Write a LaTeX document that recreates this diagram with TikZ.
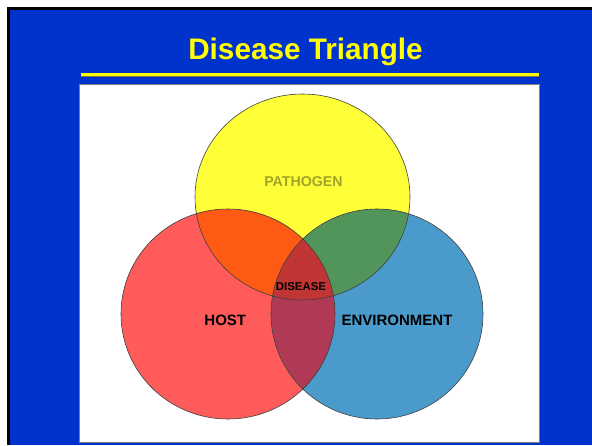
\documentclass[tikz,border=0pt]{standalone}
\usepackage{fontspec}
\setmainfont{Liberation Sans}
\definecolor{bg}{HTML}{0033CC}
\definecolor{titleyellow}{HTML}{FFFF00}
\definecolor{ruleshadow}{HTML}{7A7A40}
\definecolor{yelF}{HTML}{FFFF38}
\definecolor{redF}{HTML}{FF5B5B}
\definecolor{bluF}{HTML}{4A9BCB}
\definecolor{yrF}{HTML}{FF5A14}
\definecolor{ybF}{HTML}{52955A}
\definecolor{rbF}{HTML}{B03A55}
\definecolor{yrbF}{HTML}{C23535}
\definecolor{pathcol}{HTML}{A3A32A}
\tikzset{
  titletext/.style={font=\fontsize{29.7}{32}\selectfont\bfseries, text=titleyellow, inner sep=0pt, anchor=base},
  lbl/.style={font=\fontsize{15}{17}\selectfont\bfseries, text=black, inner sep=0pt, anchor=base},
  smalllbl/.style={font=\fontsize{11.4}{13}\selectfont\bfseries, text=black, inner sep=0pt, anchor=base},
  outline/.style={draw=black!75, line width=0.6pt}
}
\def\ycirc{(302.5,197) ellipse [x radius=107.5pt, y radius=103pt]}
\def\rcirc{(228,314) ellipse [x radius=107pt, y radius=105pt]}
\def\bcirc{(377,314) ellipse [x radius=106pt, y radius=105pt]}
\begin{document}
\begin{tikzpicture}[x=1pt,y=-1pt]
\useasboundingbox (0,0) rectangle (592,445);
\fill[white] (0,0) rectangle (592,445);
\fill[black] (7,7) rectangle (592,445);
\fill[bg] (10,10) rectangle (592,445);
% title
\node[titletext] (title) at (305.5,59) {Disease Triangle};
% rule under title
\fill[titleyellow] (81,73) rectangle (539,76);
\fill[ruleshadow] (81,76) rectangle (539,77.3);
% white panel
\filldraw[fill=white, draw=gray, line width=1pt] (79.5,84.5) rectangle (539.5,442);
% circles
\fill[yelF] \ycirc;
\fill[redF] \rcirc;
\fill[bluF] \bcirc;
\begin{scope}
  \clip \ycirc;
  \fill[yrF] \rcirc;
  \fill[ybF] \bcirc;
\end{scope}
\begin{scope}
  \clip \rcirc;
  \fill[rbF] \bcirc;
\end{scope}
\begin{scope}
  \clip \ycirc;
  \clip \rcirc;
  \fill[yrbF] \bcirc;
\end{scope}
\draw[outline] \ycirc;
\draw[outline] \rcirc;
\draw[outline] \bcirc;
% labels
\node[lbl, font=\fontsize{14.2}{16}\selectfont\bfseries, text=pathcol] (pathogen) at (303.5,186.7) {PATHOGEN};
\node[smalllbl] (disease) at (301,290.7) {DISEASE};
\node[lbl] (host) at (225.3,325.7) {HOST};
\node[lbl] (env) at (397,325.7) {ENVIRONMENT};
\end{tikzpicture}
\end{document}
